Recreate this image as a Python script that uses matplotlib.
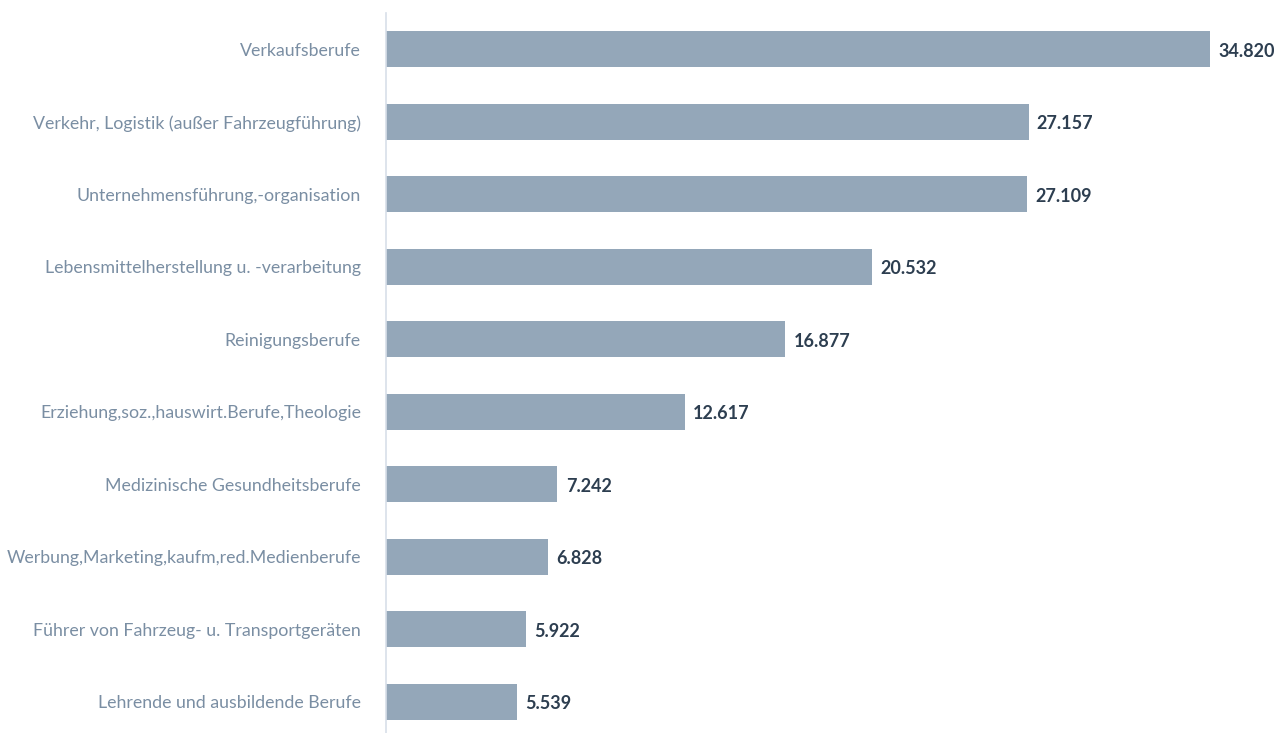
import matplotlib
matplotlib.use("Agg")
import matplotlib.pyplot as plt

categories = [
    "Verkaufsberufe",
    "Verkehr, Logistik (außer Fahrzeugführung)",
    "Unternehmensführung,-organisation",
    "Lebensmittelherstellung u. -verarbeitung",
    "Reinigungsberufe",
    "Erziehung,soz.,hauswirt.Berufe,Theologie",
    "Medizinische Gesundheitsberufe",
    "Werbung,Marketing,kaufm,red.Medienberufe",
    "Führer von Fahrzeug- u. Transportgeräten",
    "Lehrende und ausbildende Berufe",
]
values = [34820, 27157, 27109, 20532, 16877, 12617, 7242, 6828, 5922, 5539]
value_labels = ["34.820", "27.157", "27.109", "20.532", "16.877", "12.617", "7.242", "6.828", "5.922", "5.539"]

plt.rcParams['font.family'] = ['Lato', 'DejaVu Sans']

fig = plt.figure(figsize=(12.74, 7.33), dpi=100)
ax = fig.add_axes([386/1274, 0, 1 - 386/1274, 1 - 13/733])

y = list(range(len(categories)))
ax.barh(y, values, height=0.5, color="#94a7b9")
ax.set_ylim(9.43, -0.5)
ax.set_xlim(0, 37532)

for yi, v, lab in zip(y, values, value_labels):
    ax.annotate(lab, (v, yi), xytext=(6, -1.5), textcoords="offset points",
                va="center", ha="left", fontsize=13, fontweight="bold", color="#2d3e50")

ax.set_yticks(y)
ax.set_yticklabels(categories, fontsize=12.8, color="#7a8ea3")
ax.tick_params(axis="y", length=0, pad=18)
ax.set_xticks([])
for s in ["top", "right", "bottom"]:
    ax.spines[s].set_visible(False)
ax.spines["left"].set_color("#d8dfe9")
ax.spines["left"].set_linewidth(1.2)

fig.savefig("out.png", dpi=100)
